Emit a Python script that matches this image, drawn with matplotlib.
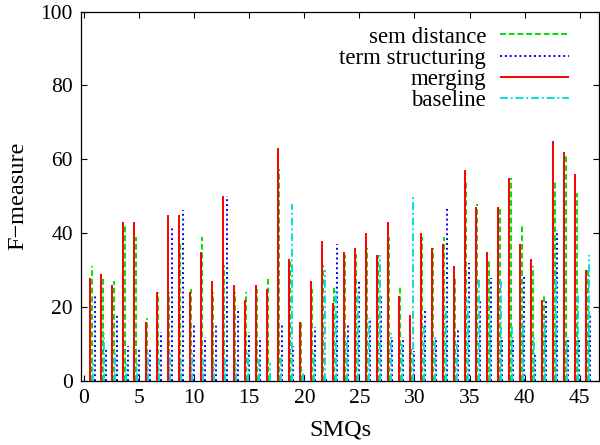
import matplotlib as mpl
mpl.use('Agg')
import matplotlib.pyplot as plt
import numpy as np

plt.rcParams['font.family'] = 'serif'
plt.rcParams['font.serif'] = ['Liberation Serif', 'DejaVu Serif']
plt.rcParams['font.size'] = 15.5

# values, one per SMQ (1..46)
smq = np.arange(1, 47)
sem_distance = [31, 28.5, 27, 42, 39, 17, 24, 24, 37, 25, 39, 24, 31.5, 24, 24, 25,
                28, 57.5, 33, 16, 25, 31.5, 25.5, 34, 34.5, 36, 34, 39, 26, 9,
                39, 36, 39, 28.5, 54, 48, 33, 47, 55, 42, 31, 23, 54, 61, 51, 30]
term_structuring = [23, 9.3, 18.5, 9.5, 9.3, 9.3, 13.4, 42, 46.4, 15.8, 12, 15.8, 50, 19.7, 13.4, 12,
                    0, 15.8, 9.5, 1.6, 14.6, 0.7, 37, 15.8, 27, 17, 23, 12, 12, 8,
                    19.7, 11, 47, 14, 32, 22, 28, 12, 12, 28.5, 7, 22, 41, 12, 11, 18]
merging = [28, 29, 26, 43, 43, 16, 24, 45, 45, 24, 35, 27, 50, 26, 22, 26,
           25, 63, 33, 16, 27, 38, 21, 35, 36, 40, 34, 43, 23, 18,
           40, 36, 37, 31, 57, 47, 35, 47, 55, 37, 33, 22, 65, 62, 56, 30]
baseline = [5, 13, 8, 5, 5, 8, 6, 8, 6, 8, 6, 5, 6, 5, 8, 6,
            5, 7, 48, 3, 8, 30, 25, 12, 24, 17, 34, 13, 10, 50,
            15, 12, 20, 10, 22, 28, 18, 27, 15, 16, 12, 16, 30, 10, 24, 34]

fig = plt.figure(figsize=(6, 4.45), dpi=100)
ax = fig.add_axes([0.1355, 0.1438, 0.8628, 0.8302])

lw = 1.4
g = ax.vlines(smq - 0.28, 0, sem_distance, colors='#00e000', linewidth=lw,
              linestyles=(0, (3, 1.5)), label='sem distance', zorder=2)
b = ax.vlines(smq - 0.02, 0, term_structuring, colors='#0000ff', linewidth=lw,
              linestyles=(0, (1, 1.5)), label='term structuring', zorder=3)
r = ax.vlines(smq - 0.42, 0, merging, colors='#ff0000', linewidth=lw,
              linestyles='solid', label='merging', zorder=4)
c = ax.vlines(smq - 0.16, 0, baseline, colors='#00e0e0', linewidth=lw,
              linestyles=(0, (4, 1.5, 1, 1.5)), label='baseline', zorder=5)

ax.set_xlim(-0.25, 46.75)
ax.set_ylim(0, 100)
ax.set_xticks(np.arange(0, 46, 5))
ax.set_yticks(np.arange(0, 101, 20))
ax.tick_params(direction='in', length=4.3, width=0.8, top=True, right=True, pad=6)
for s in ax.spines.values():
    s.set_linewidth(0.9)

ax.set_xlabel('SMQs', fontsize=17.5)
ax.xaxis.set_label_coords(0.5, -0.105)
ax.set_ylabel('F\u2212measure', fontsize=17.5)
ax.yaxis.set_label_coords(-0.102, 0.5)

leg = ax.legend(handles=[g, b, r, c], loc='upper right', bbox_to_anchor=(0.97, 1.0),
                frameon=False, markerfirst=False, handlelength=3.0, handletextpad=0.6,
                labelspacing=0.0, borderaxespad=0.25, fontsize=16.5)

plt.savefig('out.png', dpi=100)
